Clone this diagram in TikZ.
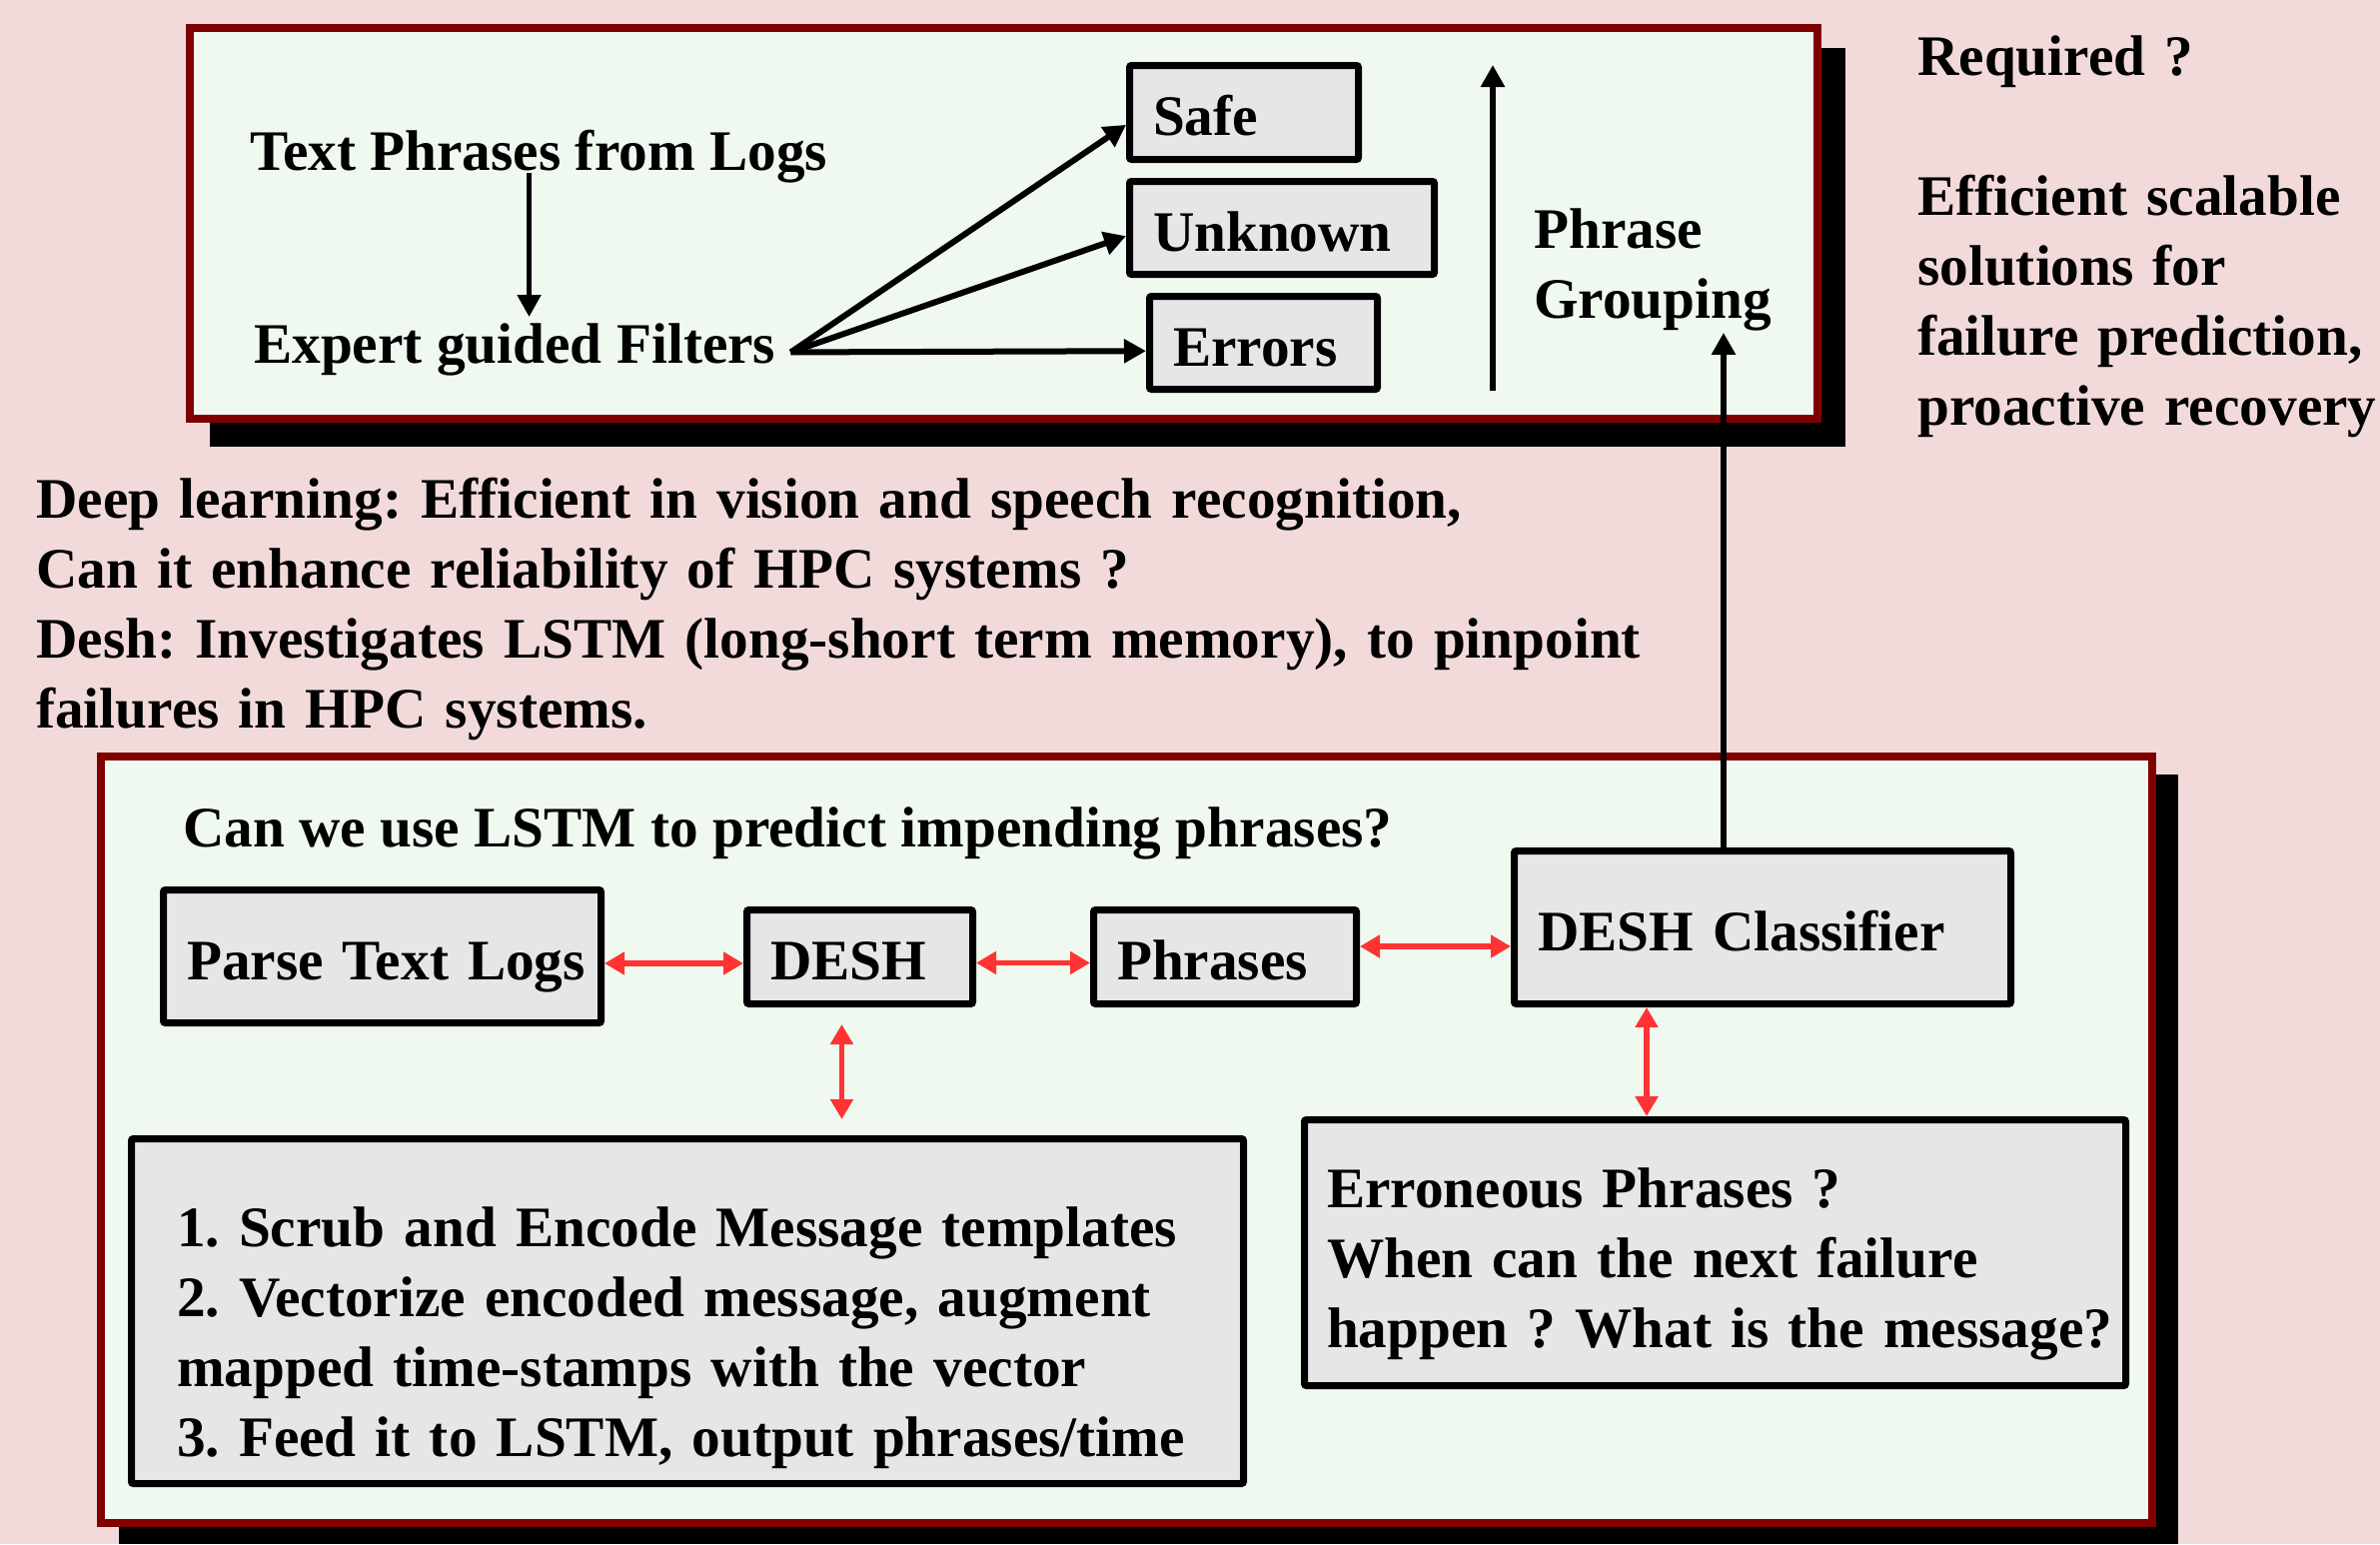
\documentclass[tikz,border=0pt]{standalone}
\usepackage{fontspec}
\setmainfont{Liberation Serif}
\usetikzlibrary{arrows.meta}
\definecolor{bgpink}{HTML}{F2DADB}
\definecolor{panel}{HTML}{F0F9F0}
\definecolor{boxgray}{HTML}{E6E6E6}
\definecolor{framered}{HTML}{800000}
\definecolor{linkred}{HTML}{FF3333}

\begin{document}
\begin{tikzpicture}[x=1pt,y=-1pt,
  every node/.style={font=\fontsize{57.3}{70}\selectfont\bfseries\frenchspacing},
  txt/.style={inner sep=0pt, anchor=base west, align=left},
  gbox/.style={draw=black, line width=7pt, fill=boxgray, rounded corners=2pt,
    inner xsep=23.5pt, inner ysep=0pt, align=left},
  oneline/.style={text height=46pt, text depth=0pt},
  panelframe/.style={draw=framered, line width=8pt, fill=panel},
  blkarr/.style={line width=6pt, -{Triangle[length=22pt,width=23pt]}},
  redarr/.style={draw=linkred, line width=5.5pt,
    {Triangle[length=20pt,width=22pt]}-{Triangle[length=20pt,width=22pt]}},
]
% page
\fill[bgpink] (0,0) rectangle (2382,1545);
\useasboundingbox (0,0) rectangle (2382,1545);

% upper panel with its drop shadow
\fill[black] (210,48) rectangle (1847,447);
\draw[panelframe] (190,28) rectangle (1819,419);

% lower panel with its drop shadow
\fill[black] (119,775) rectangle (2180,1545);
\draw[panelframe] (101,757) rectangle (2154,1524);

% ---------- upper panel ----------
\node[txt] (tpl) at (250,170) {Text Phrases from Logs};
\node[txt] (fil) at (254,363) {Expert guided Filters};

\node[gbox, oneline, minimum width=229pt, minimum height=94pt, text width=182pt]
  (safe) at (1245,112.5) {\mbox{Safe}};
\node[gbox, oneline, minimum width=305pt, minimum height=93pt, text width=258pt]
  (unk) at (1283,228) {\mbox{Unknown}};
\node[gbox, oneline, minimum width=228pt, minimum height=93pt, text width=181pt]
  (err) at (1264.5,343) {\mbox{Errors}};

\node[txt, text width=300pt] (grp) at (1535,248) {Phrase\\Grouping};

\coordinate (dropTop) at ([xshift=-9.5pt,yshift=10pt]tpl.south);
\draw[blkarr, line width=5pt, shorten >=6pt] (dropTop) -- (dropTop |- fil.north);

\coordinate (fan) at ([xshift=15pt,yshift=-3pt]fil.east);
\draw[blkarr] (fan) -- (safe.186);
\draw[blkarr] (fan) -- (unk.183);
\draw[blkarr] (fan) -- (err.184);

\coordinate (pgbot) at (1494,391);
\coordinate (pgtop) at (1494,65);
\draw[blkarr] (pgbot) -- (pgtop);

% ---------- notes outside the panels ----------
\node[txt, text width=470pt] (req) at (1919,75)
  {Required ?\\[70pt]Efficient scalable\\solutions for\\failure prediction,\\proactive recovery};
\node[txt, text width=1700pt] (deep) at (36,518)
  {Deep learning: Efficient in vision and speech recognition,\\
   Can it enhance reliability of HPC systems ?\\
   Desh: Investigates LSTM (long-short term memory), to pinpoint\\
   failures in HPC systems.};

% ---------- lower panel ----------
\node[txt] (ask) at (183,847) {Can we use LSTM to predict impending phrases?};

\node[gbox, oneline, minimum width=438pt, minimum height=133pt, text width=391pt]
  (parse) at (382.5,957) {\mbox{Parse Text Logs}};
\node[gbox, oneline, minimum width=226pt, minimum height=94pt, text width=179pt]
  (desh) at (860.5,957.5) {\mbox{DESH}};
\node[gbox, oneline, minimum width=263pt, minimum height=94pt, text width=216pt]
  (phr) at (1226,957.5) {\mbox{Phrases}};
\node[gbox, oneline, minimum width=497pt, minimum height=153pt, text width=450pt]
  (cls) at (1764,928) {\mbox{DESH Classifier}};

\node[gbox, inner xsep=45.5pt, minimum width=1113pt, minimum height=345pt,
  text width=1022pt, text height=101pt, text depth=231pt]
  (steps) at (688,1312)
  {\mbox{1. Scrub and Encode Message templates}\\
   \mbox{2. Vectorize encoded message, augment}\\
   \mbox{mapped time-stamps with the vector}\\
   \mbox{3. Feed it to LSTM, output phrases/time}};
\node[gbox, inner xsep=22.5pt, minimum width=822pt, minimum height=266pt,
  text width=777pt, text height=71pt, text depth=162pt]
  (errq) at (1716.5,1253.5)
  {\mbox{Erroneous Phrases ?}\\
   \mbox{When can the next failure}\\
   \mbox{happen ? What is the message?}};

% two-way links
\coordinate (pd) at ([yshift=-7pt]parse.east);
\draw[redarr] (pd) -- (pd -| desh.west);
\coordinate (dp) at ([yshift=-6pt]desh.east);
\draw[redarr] (dp) -- (dp -| phr.west);
\coordinate (pc) at ([yshift=10.5pt]phr.east);
\draw[redarr] (pc) -- (pc -| cls.west);
\coordinate (dv) at ([xshift=-18pt]desh.south);
\draw[redarr, shorten <=17pt, shorten >=16pt] (dv) -- (dv |- steps.north);
\coordinate (cv) at ([xshift=-116pt]cls.south);
\draw[redarr] (cv) -- (cv |- errq.north);

% classifier output feeds the phrase grouping
\coordinate (clsup) at ([xshift=-39pt]cls.north);
\draw[blkarr, shorten >=2pt] (clsup) -- (clsup |- grp.south);
\end{tikzpicture}
\end{document}
